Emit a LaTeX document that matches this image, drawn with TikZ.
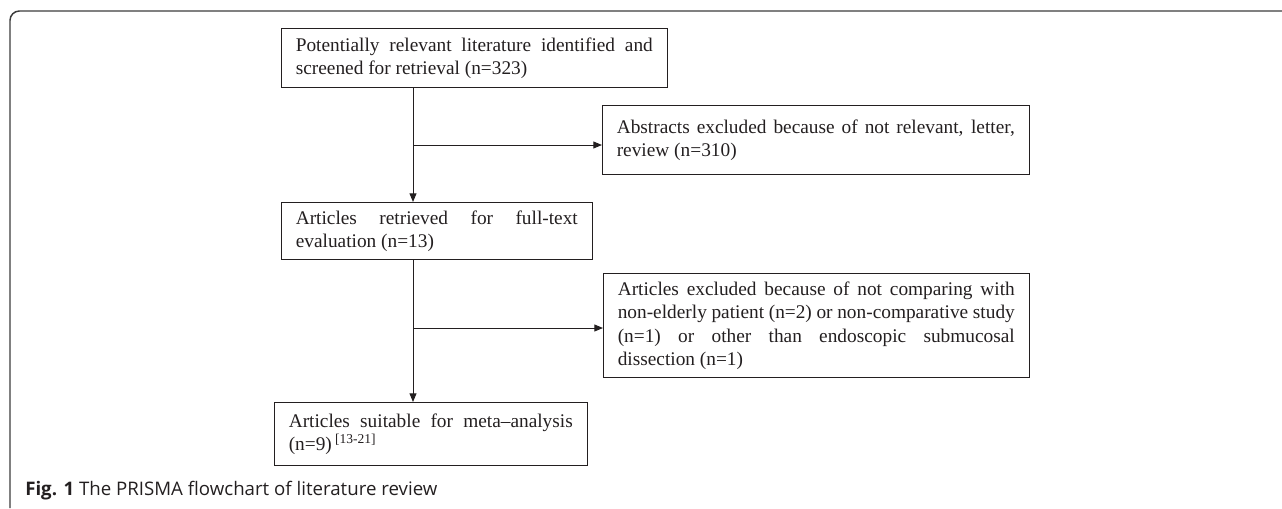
\documentclass[tikz,border=0pt]{standalone}
\usepackage{fontspec}
\setmainfont{Liberation Serif}
\newfontfamily\capfont{Open Sans}
\usetikzlibrary{arrows.meta,positioning}
\definecolor{pxInk}{HTML}{231F20}
\definecolor{pxFrame}{HTML}{3C3C3C}
\hyphenpenalty=10000
\exhyphenpenalty=10000
\tolerance=10000
\tikzset{
 prisma/.style={line cap=butt,text=pxInk},
 stage/.style={draw=pxInk,line width=.8pt,anchor=north west,align=justify,
   inner xsep=10.7pt,inner ysep=0pt,font=\fontsize{14.5pt}{17.6pt}\selectfont},
 flow/.style={draw=pxInk,line width=.75pt,-{Triangle[length=6.5pt,width=5.2pt]}},
 frame/.style={draw=pxFrame,line width=1.1pt,rounded corners=7pt},
 figcap/.style={font=\capfont\fontsize{14pt}{16pt}\selectfont,anchor=base west,
   inner sep=0pt,text=pxInk}
}

\begin{document}
\begin{tikzpicture}[prisma,x=.75pt,y=-.75pt]
 \useasboundingbox (0,0) rectangle (1282,508);
 \draw[frame] (10,508)--(10,11)--(1282,11);
 % stages of the review
 \node[stage,text width=267.75pt,minimum height=44.25pt] (lit) at (281,28)
  {Potentially relevant literature identified and\linebreak screened for retrieval (n=323)};
 \node[stage,text width=298.5pt,minimum height=51.75pt] (abs) at (602,105)
  {Abstracts excluded because of not relevant, letter,\linebreak review (n=310)};
 \node[stage,text width=211.5pt,minimum height=42.75pt] (retr) at (281,202)
  {Articles retrieved for full-text\linebreak evaluation (n=13)};
 \node[stage,text width=297.75pt,minimum height=78pt] (excl) at (603,273)
  {Articles excluded because of not comparing with\linebreak non-elderly patient (n=2) or non-comparative study\linebreak (n=1) or other than endoscopic submucosal\linebreak dissection (n=1)};
 \node[stage,text width=213pt,minimum height=47.25pt] (meta) at (274,402)
  {Articles suitable for meta–analysis\linebreak (n=9)\,\textsuperscript{[13-21]}};
 \coordinate (spine) at (413,0);
 \coordinate (fork1) at (413,145);
 \coordinate (fork2) at (413,328);
 \draw[flow] (lit.south -| spine) -- (retr.north -| spine);
 \draw[flow] (fork1) -- (fork1 -| abs.west);
 \draw[flow] (retr.south -| spine) -- (meta.north -| spine);
 \draw[flow] (fork2) -- (fork2 -| excl.west);
 \node[figcap] (cap) at (25,495) {\textbf{Fig. 1} The PRISMA flowchart of literature review};
\end{tikzpicture}
\end{document}
